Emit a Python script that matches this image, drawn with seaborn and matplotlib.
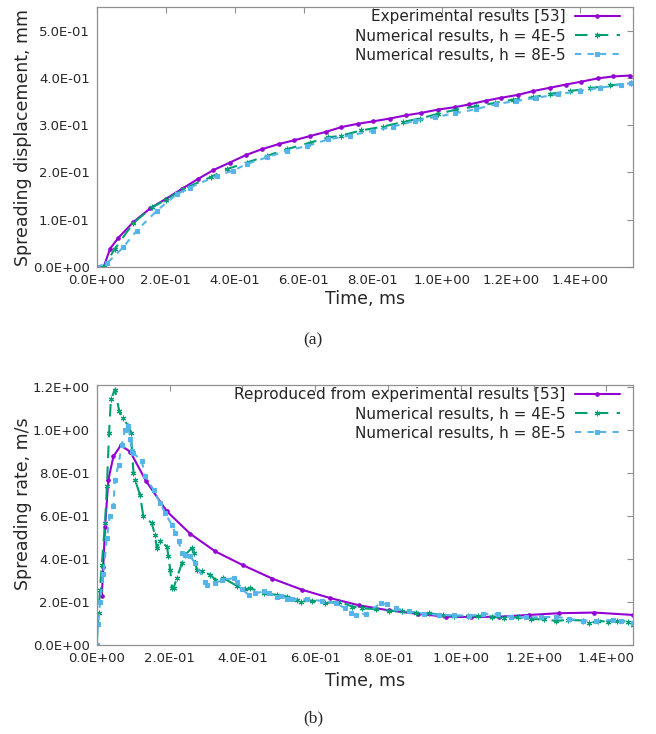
import seaborn as sns
import matplotlib.pyplot as plt

# (a) spreading displacement [mm] vs time [ms]
disp_exp_t = [0.02, 0.039, 0.063, 0.106, 0.155, 0.2, 0.246, 0.293, 0.338, 0.386,
              0.433, 0.478, 0.527, 0.572, 0.618, 0.665, 0.709, 0.757, 0.80, 0.849,
              0.897, 0.941, 0.989, 1.037, 1.08, 1.129, 1.172, 1.22, 1.264, 1.312,
              1.36, 1.404, 1.452, 1.495, 1.544]
disp_exp_v = [0.0, 0.039, 0.062, 0.095, 0.124, 0.144, 0.165, 0.186, 0.205, 0.221,
              0.237, 0.249, 0.26, 0.268, 0.277, 0.286, 0.296, 0.303, 0.308, 0.314,
              0.321, 0.326, 0.333, 0.338, 0.344, 0.352, 0.358, 0.364, 0.372, 0.379,
              0.386, 0.392, 0.399, 0.403, 0.405]

disp_h4_t = [0.0, 0.02, 0.053, 0.106, 0.16, 0.2, 0.25, 0.33, 0.377, 0.435,
             0.493, 0.55, 0.618, 0.671, 0.709, 0.767, 0.83, 0.888, 0.936, 0.989,
             1.042, 1.1, 1.153, 1.206, 1.264, 1.312, 1.37, 1.428, 1.486, 1.548]
disp_h4_v = [0.0, 0.0, 0.039, 0.093, 0.126, 0.142, 0.165, 0.19, 0.207, 0.221,
             0.235, 0.249, 0.263, 0.274, 0.278, 0.289, 0.297, 0.307, 0.314, 0.324,
             0.333, 0.34, 0.347, 0.354, 0.359, 0.366, 0.372, 0.378, 0.384, 0.389]

disp_h8_t = [0.0, 0.03, 0.077, 0.116, 0.174, 0.232, 0.27, 0.348, 0.396, 0.435,
             0.493, 0.551, 0.609, 0.671, 0.733, 0.80, 0.859, 0.921, 0.979, 1.037,
             1.1, 1.158, 1.216, 1.273, 1.336, 1.399, 1.457, 1.52, 1.548]
disp_h8_v = [0.0, 0.008, 0.042, 0.077, 0.119, 0.154, 0.168, 0.193, 0.204, 0.218,
             0.232, 0.246, 0.256, 0.27, 0.278, 0.288, 0.297, 0.309, 0.317, 0.325,
             0.334, 0.345, 0.351, 0.358, 0.365, 0.373, 0.379, 0.386, 0.389]

# (b) spreading rate [m/s] vs time [ms]
rate_exp_t = [0.014, 0.018, 0.023, 0.032, 0.046, 0.066, 0.092, 0.136, 0.193, 0.257,
              0.326, 0.402, 0.482, 0.564, 0.642, 0.72, 0.803, 0.881, 0.958, 1.028,
              1.106, 1.188, 1.27, 1.367, 1.472]
rate_exp_v = [0.227, 0.366, 0.55, 0.77, 0.878, 0.929, 0.9, 0.762, 0.622, 0.518,
              0.436, 0.372, 0.31, 0.258, 0.219, 0.186, 0.162, 0.146, 0.133, 0.131,
              0.133, 0.141, 0.149, 0.152, 0.141]

rate_h4_t = [0.0, 0.005, 0.009, 0.014, 0.023, 0.028, 0.034, 0.039, 0.05, 0.062,
             0.072, 0.087, 0.094, 0.101, 0.105, 0.119, 0.128, 0.151, 0.16, 0.165,
             0.174, 0.193, 0.197, 0.202, 0.207, 0.211, 0.22, 0.234, 0.243, 0.261,
             0.266, 0.275, 0.289, 0.312, 0.326, 0.348, 0.385, 0.408, 0.422, 0.459,
             0.495, 0.523, 0.55, 0.56, 0.592, 0.628, 0.665, 0.702, 0.729, 0.766,
             0.803, 0.839, 0.876, 0.913, 0.95, 0.982, 1.02, 1.046, 1.086, 1.119,
             1.156, 1.192, 1.229, 1.261, 1.293, 1.335, 1.353, 1.376, 1.404, 1.43,
             1.459, 1.472]
rate_h4_v = [0.0, 0.149, 0.258, 0.374, 0.568, 0.739, 0.987, 1.143, 1.189, 1.088,
             1.057, 1.018, 0.987, 0.801, 0.77, 0.70, 0.6, 0.568, 0.514, 0.452,
             0.483, 0.459, 0.413, 0.35, 0.265, 0.265, 0.312, 0.382, 0.42, 0.452,
             0.428, 0.35, 0.343, 0.328, 0.304, 0.312, 0.276, 0.26, 0.265, 0.242,
             0.234, 0.226, 0.211, 0.203, 0.208, 0.196, 0.203, 0.18, 0.172, 0.168,
             0.161, 0.157, 0.152, 0.149, 0.14, 0.137, 0.134, 0.136, 0.133, 0.126,
             0.13, 0.121, 0.121, 0.113, 0.118, 0.115, 0.102, 0.113, 0.11, 0.113,
             0.11, 0.095]

rate_h8_t = [0.0, 0.004, 0.009, 0.018, 0.028, 0.036, 0.046, 0.05, 0.06, 0.069,
             0.078, 0.087, 0.092, 0.096, 0.101, 0.124, 0.133, 0.156, 0.174, 0.188,
             0.206, 0.216, 0.225, 0.234, 0.243, 0.257, 0.27, 0.298, 0.303, 0.326,
             0.344, 0.376, 0.385, 0.40, 0.417, 0.436, 0.459, 0.472, 0.495, 0.505,
             0.523, 0.537, 0.578, 0.619, 0.656, 0.683, 0.697, 0.711, 0.739, 0.78,
             0.797, 0.821, 0.857, 0.899, 0.94, 0.982, 1.022, 1.06, 1.101, 1.138,
             1.179, 1.22, 1.261, 1.298, 1.335, 1.372, 1.417, 1.44, 1.472]
rate_h8_v = [0.0, 0.1, 0.2, 0.33, 0.5, 0.6, 0.646, 0.77, 0.84, 0.933,
             1.003, 1.018, 0.96, 0.902, 0.894, 0.855, 0.785, 0.723, 0.661, 0.615,
             0.56, 0.522, 0.483, 0.428, 0.42, 0.413, 0.382, 0.293, 0.281, 0.289,
             0.304, 0.312, 0.296, 0.26, 0.234, 0.242, 0.25, 0.242, 0.226, 0.23,
             0.216, 0.214, 0.214, 0.206, 0.196, 0.172, 0.152, 0.141, 0.146, 0.196,
             0.19, 0.172, 0.157, 0.146, 0.141, 0.14, 0.137, 0.146, 0.146, 0.13,
             0.13, 0.13, 0.133, 0.122, 0.115, 0.113, 0.118, 0.115, 0.105]

x_ticks = [0.0, 0.2, 0.4, 0.6, 0.8, 1.0, 1.2, 1.4]
disp_ticks = [0.0, 0.1, 0.2, 0.3, 0.4, 0.5]
rate_ticks = [0.0, 0.2, 0.4, 0.6, 0.8, 1.0, 1.2]

PURPLE = '#9400d3'
GREEN = '#009e73'
BLUE = '#56b4e9'
LW = 1.5


def draw_series(ax, t, v, color, marker, ms, ls, label):
    sns.lineplot(
        x=t, y=v, ax=ax, color=color, lw=LW, linestyle=ls,
        marker=marker, markersize=ms, markeredgecolor=color,
        markeredgewidth=0.8, markerfacecolor=color,
        estimator=None, sort=False, label=label,
    )


def style_axes(ax, xmax, ymax, yticks, ylabel, ylabel_y, xlabel_y):
    ax.set_xlim(0, xmax)
    ax.set_ylim(0, ymax)
    ax.set_xticks(x_ticks)
    ax.set_yticks(yticks)
    ax.set_xticklabels([f"{x:.1E}" for x in x_ticks])
    ax.set_yticklabels([f"{y:.1E}" for y in yticks])
    ax.tick_params(direction='in', length=4, width=0.8, color='#909090',
                   top=True, right=True, labelsize=9.5, pad=5)
    for s in ax.spines.values():
        s.set_color('#909090')
        s.set_linewidth(0.9)
    ax.set_xlabel('Time, ms', fontsize=12.5)
    ax.set_ylabel(ylabel, fontsize=12.5)
    ax.xaxis.set_label_coords(0.5, xlabel_y)
    ax.yaxis.set_label_coords(-0.12, ylabel_y)
    ax.legend(
        loc='upper right', bbox_to_anchor=(1 - 12.7 / 536, 1 - 2.5 / 260),
        borderaxespad=0, borderpad=0, frameon=False, markerfirst=False,
        handlelength=2.95, handletextpad=0.6, labelspacing=0.27, fontsize=11,
    )


sns.set_theme(style='white')
plt.rcParams['font.family'] = ['DejaVu Sans']

fig = plt.figure(figsize=(6.56, 7.34), dpi=100)
ax_a = fig.add_axes([0.1474, 0.6362, 0.8171, 0.3543])
ax_b = fig.add_axes([0.1474, 0.1209, 0.8171, 0.3546])

draw_series(ax_a, disp_exp_t, disp_exp_v, PURPLE, 'o', 2.5, '-',
            'Experimental results [53]')
draw_series(ax_a, disp_h4_t, disp_h4_v, GREEN, (6, 2, 0), 4, (0, (6, 4)),
            'Numerical results, h = 4E-5')
draw_series(ax_a, disp_h8_t, disp_h8_v, BLUE, 's', 3, (0, (3, 3)),
            'Numerical results, h = 8E-5')
style_axes(ax_a, 1.553, 0.55, disp_ticks, 'Spreading displacement, mm',
           0.5, -0.088)

draw_series(ax_b, rate_exp_t, rate_exp_v, PURPLE, 'o', 2.5, '-',
            'Reproduced from experimental results [53]')
draw_series(ax_b, rate_h4_t, rate_h4_v, GREEN, (6, 2, 0), 4, (0, (6, 4)),
            'Numerical results, h = 4E-5')
draw_series(ax_b, rate_h8_t, rate_h8_v, BLUE, 's', 3, (0, (3, 3)),
            'Numerical results, h = 8E-5')
style_axes(ax_b, 1.472, 1.21, rate_ticks, 'Spreading rate, m/s',
           0.545, -0.103)

fig.text(0.477, 1 - 340 / 734, '(a)', ha='center', va='center',
         family='Liberation Serif', fontsize=12.5)
fig.text(0.477, 1 - 718 / 734, '(b)', ha='center', va='center',
         family='Liberation Serif', fontsize=12.5)

fig.savefig('out.png', dpi=100)
